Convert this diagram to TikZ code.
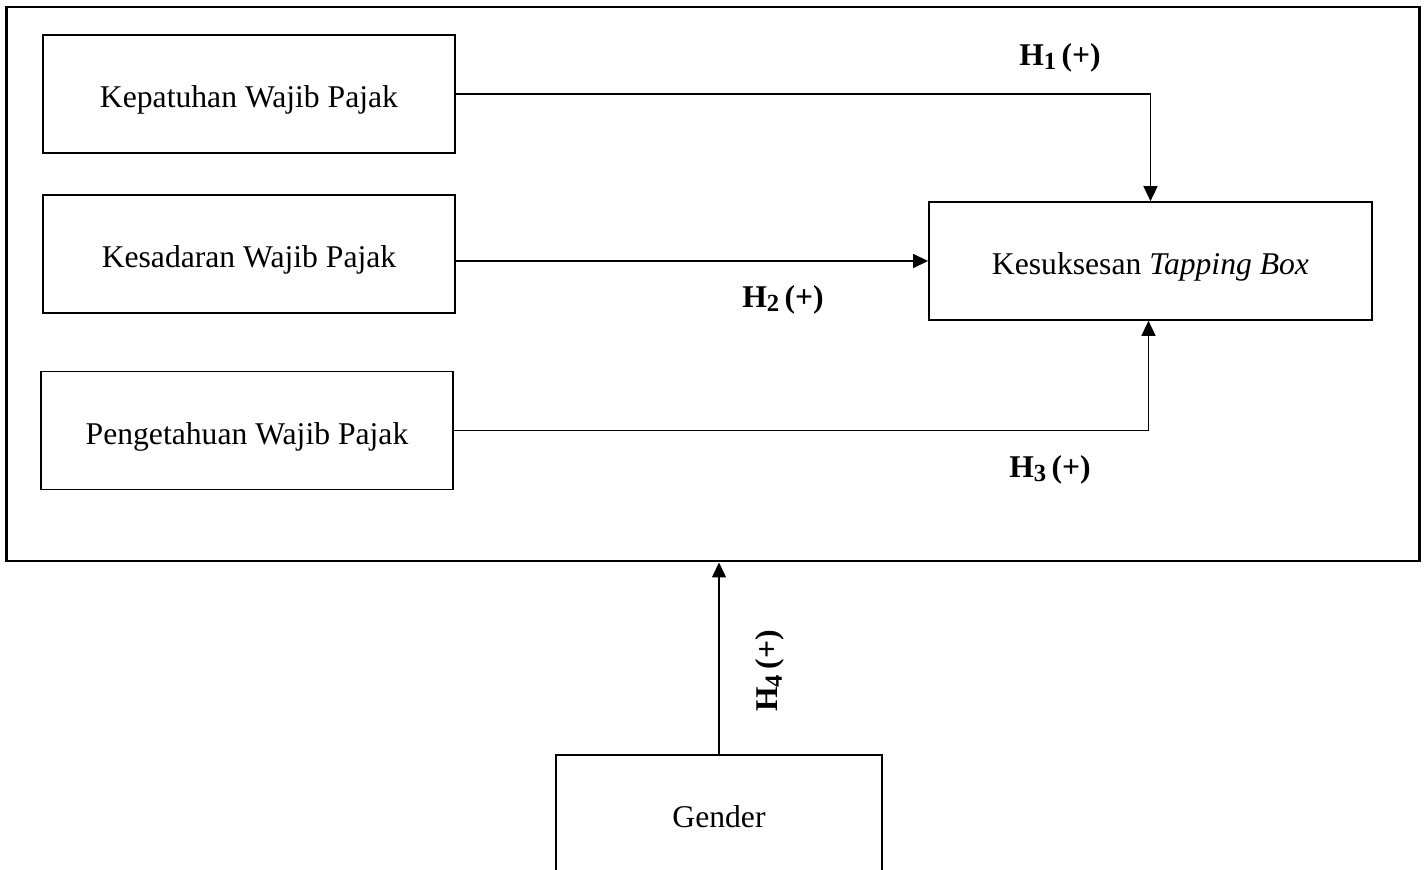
\documentclass[tikz,border=0pt]{standalone}
\usepackage{fontspec}
\setmainfont{Liberation Serif}
\usepackage{tikz}
\usetikzlibrary{
  positioning,
  arrows.meta
}

\newcommand{\hyp}[1]{\textbf{H\raisebox{-0.3ex}{\scriptsize #1}\,(+)}}

\begin{document}
\begin{tikzpicture}[
  x=0.01cm, y=-0.01cm,
  font=\fontsize{9}{11}\selectfont,
  varbox/.style={
    rectangle,
    draw=black,
    line width=0.45pt,
    minimum width=4.12cm,
    minimum height=1.18cm,
    inner sep=0pt,
    text height=1.7ex,
    text depth=0pt,
    align=center
  },
  arrow/.style={
    -{Triangle[length=0.15cm,width=0.14cm]},
    line width=0.4pt
  },
  hyplabel/.style={
    font=\fontsize{9}{11}\selectfont
  }
]
\useasboundingbox (0,0) rectangle (1426,870);
\clip (0,0) rectangle (1426,870);

% Frame
\node[draw=black, line width=0.75pt, minimum width=14.12cm, minimum height=5.54cm, inner sep=0pt] (frame) at (713,284) {};

% Independent variables
\node[varbox] (patuh) at (249,94) {Kepatuhan Wajib Pajak};
\node[varbox] (sadar) at (249,254) {Kesadaran Wajib Pajak};
\node[varbox] (tahu) at (247,430.5) {Pengetahuan Wajib Pajak};

% Dependent variable
\node[varbox, minimum width=4.43cm] (sukses) at (1150.5,261) {Kesuksesan \textit{Tapping Box}};

% Moderator
\node[varbox, minimum width=3.26cm] (gender) at (719,814) {Gender};

% Paths
\draw[arrow] (patuh.east) -| (sukses.north);
\draw[arrow] (sadar.east |- sukses.west) -- (sukses.west);
\draw[arrow] (tahu.east) -| ([xshift=-0.02cm]sukses.south);
\draw[arrow] (gender.north) -- (gender.north |- frame.south);

% Labels
\node[hyplabel] (h1) at (1060,58) {\hyp{1}};
\node[hyplabel] (h2) at (783,300) {\hyp{2}};
\node[hyplabel] (h3) at (1050,470) {\hyp{3}};
\node[hyplabel, rotate=90] (h4) at (770,671) {\hyp{4}};

\end{tikzpicture}
\end{document}
